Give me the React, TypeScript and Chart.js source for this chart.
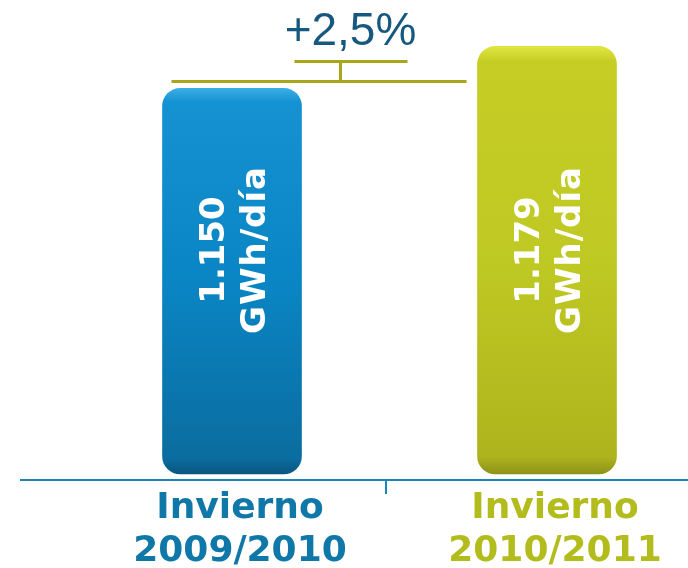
import React, { useEffect, useRef } from "react";
import { Chart, registerables } from "chart.js";

Chart.register(...registerables);

// ---- data ----
const categories: string[][] = [
  ["Invierno", "2009/2010"],
  ["Invierno", "2010/2011"],
];
const values: number[] = [1150, 1179];
const unitLabel = "GWh/día";
const labelColors: string[] = ["#0f78a8", "#b3bc1d"];
const barStops: string[][] = [
  ["#3aaee6", "#1592d2", "#0a85c4", "#0b6d9f", "#0a557e"],
  ["#dfe640", "#c6ce25", "#bfc923", "#aeb41d", "#8c9218"],
];
const yMin = 884;
const yMax = 1211;

function fmtThousands(v: number): string {
  return String(v).replace(/\B(?=(\d{3})+(?!\d))/g, ".");
}
const changePct = (values[1] / values[0] - 1) * 100;
const changeLabel = "+" + changePct.toFixed(1).replace(".", ",") + "%";

const overlayPlugin = {
  id: "overlay",
  afterDatasetsDraw(chart: any) {
    const ctx = chart.ctx as CanvasRenderingContext2D;
    const bars = chart.getDatasetMeta(0).data;
    const xs = chart.scales.x;
    const area = chart.chartArea;

    // values inside bars (rotated)
    bars.forEach((bar: any, i: number) => {
      const p = bar.getProps(["x", "y", "base", "width"], true);
      ctx.save();
      ctx.translate(p.x, 250);
      ctx.rotate(-Math.PI / 2);
      ctx.fillStyle = "#ffffff";
      ctx.font = "bold 34px 'DejaVu Sans'";
      ctx.textAlign = "center";
      ctx.textBaseline = "alphabetic";
      ctx.fillText(fmtThousands(values[i]), 0, -8);
      (ctx as any).letterSpacing = "1px";
      ctx.fillText(unitLabel, 0, 33);
      ctx.restore();
    });

    // axis line + middle tick
    const yLine = area.bottom + 6;
    ctx.save();
    ctx.strokeStyle = "#1a86b8";
    ctx.lineWidth = 2;
    ctx.beginPath();
    ctx.moveTo(20, yLine);
    ctx.lineTo(chart.width, yLine);
    const mid = Math.round(xs.getPixelForValue(0.5)) - 4;
    ctx.moveTo(mid, yLine);
    ctx.lineTo(mid, yLine + 14);
    ctx.stroke();
    ctx.restore();

    // bracket with change
    const b0 = bars[0].getProps(["x", "y", "width"], true);
    const b1 = bars[1].getProps(["x", "y", "width"], true);
    const left0 = b0.x - b0.width / 2;
    const right0 = b0.x + b0.width / 2;
    const left1 = b1.x - b1.width / 2;
    const yLong = b0.y - 7;
    const yUp = yLong - 20;
    ctx.save();
    ctx.strokeStyle = "#aaa61c";
    ctx.lineWidth = 3;
    ctx.beginPath();
    ctx.moveTo(left0 + 9, yLong);
    ctx.lineTo(left1 - 11, yLong);
    ctx.moveTo(right0 + 39, yLong);
    ctx.lineTo(right0 + 39, yUp);
    ctx.moveTo(right0 - 7, yUp);
    ctx.lineTo(right0 + 106, yUp);
    ctx.stroke();
    ctx.fillStyle = "#17587f";
    ctx.font = "46px 'Liberation Sans'";
    ctx.textAlign = "center";
    ctx.textBaseline = "alphabetic";
    ctx.fillText(changeLabel, right0 + 49, yLong - 36);
    ctx.restore();
  },
};

export default function App() {
  const ref = useRef<HTMLCanvasElement | null>(null);

  useEffect(() => {
    document.body.style.margin = "0";
    if (!ref.current) return;
    const chart = new Chart(ref.current, {
      type: "bar",
      data: {
        labels: categories as any,
        datasets: [
          {
            data: values,
            base: yMin,
            barThickness: 139,
            borderRadius: 18,
            borderSkipped: false,
            clip: false as any,
            backgroundColor: (c: any) => {
              if (c.type !== "data") return barStops[0][2];
              const ch = c.chart;
              const stops = barStops[c.dataIndex];
              if (!ch.chartArea) return stops[2];
              const ys = ch.scales.y;
              const top = ys.getPixelForValue(values[c.dataIndex]);
              const bottom = ys.getPixelForValue(yMin);
              const g = ch.ctx.createLinearGradient(0, top, 0, bottom);
              g.addColorStop(0, stops[0]);
              g.addColorStop(0.035, stops[1]);
              g.addColorStop(0.5, stops[2]);
              g.addColorStop(0.96, stops[3]);
              g.addColorStop(1, stops[4]);
              return g;
            },
          } as any,
        ],
      },
      options: {
        responsive: false,
        animation: false,
        layout: { padding: { left: 232, right: 141, top: 0, bottom: 0 } },
        plugins: {
          legend: { display: false },
          tooltip: { enabled: false },
        },
        scales: {
          x: {
            type: "category",
            offset: false,
            grid: { display: false, drawTicks: false },
            border: { display: false },
            afterFit: (scale: any) => {
              scale.height = 94;
            },
            ticks: {
              padding: 13,
              labelOffset: 8,
              maxRotation: 0,
              autoSkip: false,
              font: { family: "'DejaVu Sans'", size: 36, weight: "bold", lineHeight: 1.2 },
              color: (c: any) => labelColors[c.index] || labelColors[0],
            },
          },
          y: {
            display: false,
            min: yMin,
            max: yMax,
          },
        },
      },
      plugins: [overlayPlugin],
    });
    return () => chart.destroy();
  }, []);

  return (
    <div style={{ position: "fixed", top: 0, left: 0, width: 688, height: 568, background: "#fff" }}>
      <canvas ref={ref} width={688} height={568} />
    </div>
  );
}
